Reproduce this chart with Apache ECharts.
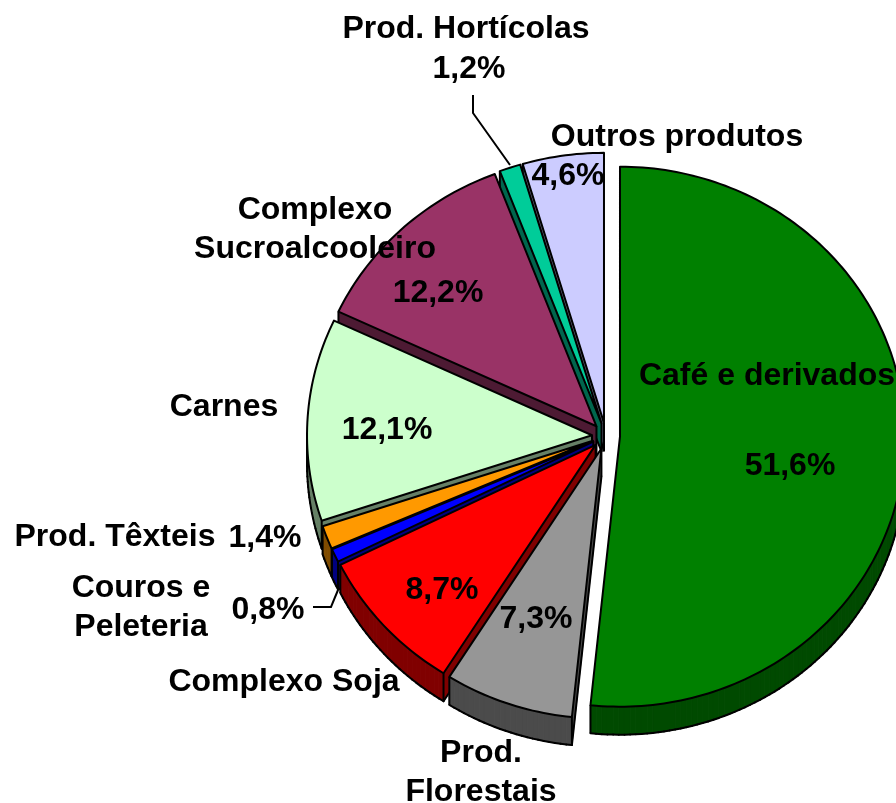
<!DOCTYPE html>
<html><head><meta charset="utf-8">
<style>html,body{margin:0;padding:0;background:#fff;overflow:hidden}#c{width:896px;height:803px}</style>
<script src="https://cdn.jsdelivr.net/npm/echarts@6/dist/echarts.min.js"></script>
</head><body><div id="c"></div>
<script>
const categories = ['Café e derivados','Prod. Florestais','Complexo Soja','Couros e Peleteria','Prod. Têxteis','Carnes','Complexo Sucroalcooleiro','Prod. Hortícolas','Outros produtos'];
const shares = [51.6,7.3,8.7,0.8,1.4,12.1,12.2,1.2,4.6];
const topColors = ['#008000','#969696','#ff0000','#0000ff','#ff9900','#ccffcc','#993366','#00cc99','#ccccff'];
const wallColors = ['#004a00','#4b4b4b','#800000','#000080','#804c00','#668066','#4d1a33','#00664d','#666680'];

const geo = {cx:606, cy:436, rx:285, ry:270, explode:14, depth:28};
const total = shares.reduce((a,b)=>a+b,0);
let acc = 0;
const starts = shares.map(v=>{const s=acc;acc+=v;return s;});
const pct = v => v.toFixed(1).replace('.',',')+'%';

function renderSlice(params, api){
  const s = api.value(0), v = api.value(1), i = api.value(2);
  const a0 = s/total*2*Math.PI, a1 = (s+v)/total*2*Math.PI, mid=(a0+a1)/2;
  const ax = geo.cx + geo.explode*Math.sin(mid), ay = geo.cy - geo.explode*Math.cos(mid)*0.95;
  const n = Math.max(2, Math.ceil((a1-a0)/0.02));
  const arc = [];
  for(let k=0;k<=n;k++){const a=a0+(a1-a0)*k/n;arc.push([ax+geo.rx*Math.sin(a),ay-geo.ry*Math.cos(a)]);}
  const poly = [[ax,ay]].concat(arc);
  const down = p=>[p[0],p[1]+geo.depth];
  const wall = wallColors[i], top = topColors[i];
  const children = [];
  const m = poly.length;
  const shows = poly.map((p,k)=>poly[(k+1)%m][0] < p[0]-1e-6);
  // side walls facing the viewer
  poly.forEach((p,k)=>{
    if(!shows[k]) return;
    const q = poly[(k+1)%m];
    children.push({type:'polygon',shape:{points:[p,q,down(q),down(p)]},style:{fill:wall,stroke:wall,lineWidth:1}});
  });
  // lower outline and vertical corners of the walls
  poly.forEach((p,k)=>{
    const q = poly[(k+1)%m], prev = shows[(k-1+m)%m], cur = shows[k];
    if(cur) children.push({type:'polyline',shape:{points:[down(p),down(q)]},style:{fill:'none',stroke:'#000',lineWidth:2,lineCap:'round'}});
    const corner = k===0 || k===1 || k===m-1;
    if((corner && (cur||prev)) || cur!==prev) children.push({type:'polyline',shape:{points:[p,down(p)]},style:{fill:'none',stroke:'#000',lineWidth:2}});
  });
  children.push({type:'polygon',shape:{points:poly},style:{fill:top,stroke:'#000',lineWidth:2,lineJoin:'round'}});
  return {type:'group',children};
}

const font = {fontFamily:'"Liberation Sans",Arial,sans-serif',fontWeight:'bold',fontSize:32,fill:'#000',align:'center',verticalAlign:'middle',lineHeight:39};
const labelSpots = [
 {name:'Prod. Hortícolas',x:466,y:29},
 {name:'Outros produtos',x:677,y:137},
 {name:'Complexo\nSucroalcooleiro',x:315,y:230},
 {name:'Carnes',x:224,y:407},
 {name:'Café e derivados',x:767,y:376},
 {name:'Prod. Têxteis',x:115,y:537},
 {name:'Couros e\nPeleteria',x:141,y:608},
 {name:'Complexo Soja',x:284,y:682},
 {name:'Prod.\nFlorestais',x:481,y:773}
];
const valueSpots = [[790,466],[536,619],[442,590],[268,610],[265,538],[387,430],[438,293],[469,69],[568,176]];
const leaders = [
 [[473,95],[473,113],[510,165]],
 [[313,607],[331,607],[338,590]]
];
const graphic = [];
leaders.forEach(pts=>graphic.push({type:'polyline',z:50,shape:{points:pts},style:{fill:'none',stroke:'#000',lineWidth:2}}));
labelSpots.forEach(l=>graphic.push({type:'text',z:60,x:l.x,y:l.y,style:Object.assign({text:l.name},font)}));
valueSpots.forEach((p,i)=>graphic.push({type:'text',z:60,x:p[0],y:p[1],style:Object.assign({text:pct(shares[i])},font)}));

const sliceRows = categories.map((c,i)=>({name:c,value:[starts[i],shares[i],i]})).reverse();
const chart = echarts.init(document.getElementById('c'),null,{renderer:'canvas'});
chart.setOption({
  animation:false,
  backgroundColor:'#fff',
  graphic,
  series:[{type:'custom',coordinateSystem:'none',renderItem:renderSlice,data:sliceRows,dimensions:['start','share','index'],silent:true}]
});
</script></body></html>
